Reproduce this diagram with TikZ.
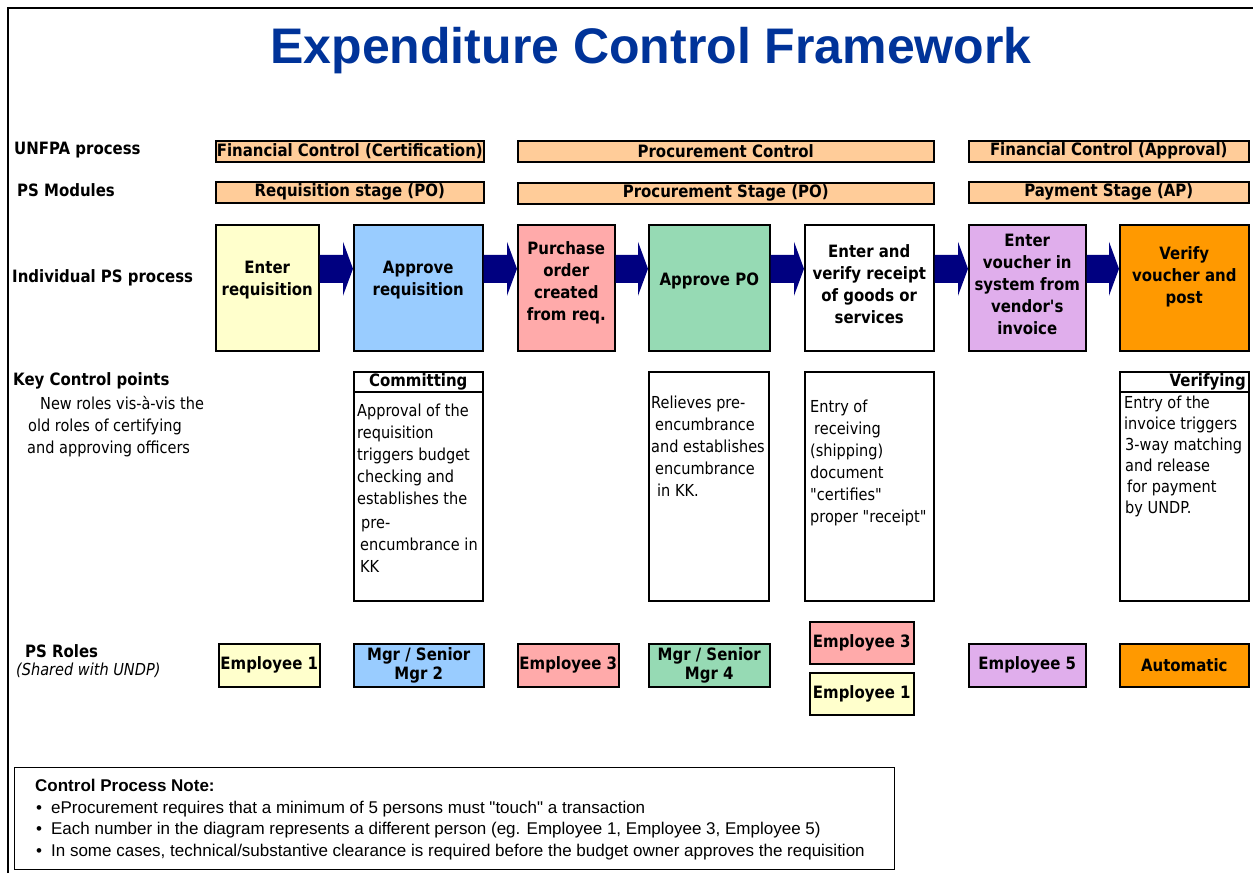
\documentclass[tikz,border=0pt]{standalone}
\usepackage{fontspec}
\setmainfont{Liberation Sans}
\newfontfamily\tahoma[FakeStretch=0.88]{DejaVu Sans}
\usetikzlibrary{calc}

\definecolor{titleblue}{RGB}{0,51,153}
\definecolor{peach}{RGB}{255,204,153}
\definecolor{paleyellow}{RGB}{255,255,204}
\definecolor{skyblue}{RGB}{153,204,255}
\definecolor{rosepink}{RGB}{255,170,170}
\definecolor{seagreen}{RGB}{150,218,180}
\definecolor{lilac}{RGB}{224,174,236}
\definecolor{deeporange}{RGB}{255,153,0}
\definecolor{navyarrow}{RGB}{0,0,128}

\tikzset{
  every node/.style={inner sep=0pt},
  rowlabel/.style={anchor=west, font=\tahoma\bfseries\fontsize{17}{22}\selectfont},
  plainlabel/.style={anchor=north west, align=left, font=\tahoma\fontsize{16.5}{22}\selectfont},
  stagebar/.style={draw, line width=1.5pt, fill=peach, anchor=north west, minimum height=21pt,
    font=\tahoma\bfseries\fontsize{17}{22}\selectfont},
  procbox/.style={draw, line width=1.5pt, anchor=north west, minimum height=126pt},
  proctext/.style={align=center, font=\tahoma\bfseries\fontsize{17}{22}\selectfont},
  ctrlbox/.style={draw, line width=1.5pt, anchor=north west, minimum height=229pt},
  ctrlhead/.style={draw, line width=1.5pt, anchor=north west, minimum height=20pt,
    font=\tahoma\bfseries\fontsize{17}{22}\selectfont},
  ctrltext/.style={anchor=north west, align=left, font=\tahoma\fontsize{16.5}{22}\selectfont},
  rolebox/.style={draw, line width=1.5pt, anchor=north west, minimum height=43pt, align=center,
    font=\tahoma\bfseries\fontsize{17}{19}\selectfont},
}

\begin{document}
\begin{tikzpicture}[x=1pt, y=-1pt]

\useasboundingbox (0,0) rectangle (1253,873);

% frame
\draw[line width=2.5pt] (8,873) -- (8,8) -- (1253,8);

\node[font=\bfseries\fontsize{50}{50}\selectfont, text=titleblue] (title) at (651,51) {Expenditure Control Framework};

% row labels
\node[rowlabel] (lunfpa) at (14,150) {UNFPA process};
\node[rowlabel] (lmod) at (17,190) {PS Modules};
\node[rowlabel] (lproc) at (12,278) {Individual PS process};
\node[rowlabel] (lkey) at (13,381) {Key Control points};
\node[plainlabel] (lkeynote) at (27,396) {\hspace*{13pt}New roles vis-à-vis the\\\hspace*{1pt}old roles of certifying\\and approving officers};
\node[rowlabel] (lroles) at (25,651) {PS Roles};
\node[rowlabel, font=\tahoma\itshape\fontsize{16.5}{22}\selectfont] (lshared) at (16,670) {(Shared with UNDP)};

% stage bars
\node[stagebar, minimum width=268pt] (fcert) at (215,140) {Financial Control (Certification)};
\node[stagebar, minimum width=416pt] (pctrl) at (517,140) {Procurement Control};
\node[stagebar, minimum width=280pt] (fappr) at (968,140) {Financial Control (Approval)};
\node[stagebar, minimum width=268pt] (sreq) at (215,181) {Requisition stage (PO)};
\node[stagebar, minimum width=416pt] (sproc) at (517,182) {Procurement Stage (PO)};
\node[stagebar, minimum width=280pt] (spay) at (968,181) {Payment Stage (AP)};

% process boxes
\node[procbox, fill=paleyellow, minimum width=103pt] (p1) at (215,224) {};
\node[procbox, fill=skyblue, minimum width=129pt] (p2) at (353,224) {};
\node[procbox, fill=rosepink, minimum width=97pt] (p3) at (517,224) {};
\node[procbox, fill=seagreen, minimum width=121pt] (p4) at (648,224) {};
\node[procbox, fill=white, minimum width=129pt] (p5) at (804,224) {};
\node[procbox, fill=lilac, minimum width=117pt] (p6) at (968,224) {};
\node[procbox, fill=deeporange, minimum width=129pt] (p7) at (1119,224) {};

\node[proctext] (p1t) at ([yshift=8pt]p1.center) {Enter\\requisition};
\node[proctext] (p2t) at ([yshift=8pt]p2.center) {Approve\\requisition};
\node[proctext] (p3t) at ([yshift=5pt]p3.center) {Purchase\\order\\created\\from req.};
\node[proctext] (p4t) at ([yshift=7pt]p4.center) {Approve PO};
\node[proctext] (p5t) at ([yshift=4pt]p5.center) {Enter and\\verify receipt\\of goods or\\services};
\node[proctext] (p6t) at ([yshift=3pt]p6.center) {Enter\\voucher in\\system from\\vendor's\\invoice};
\node[proctext] (p7t) at ([yshift=11pt]p7.center) {Verify\\voucher and\\post};

\foreach \a/\b in {p1/p2, p2/p3, p3/p4, p4/p5, p5/p6, p6/p7} {
  \fill[navyarrow] ([yshift=33pt]\a.east) -- ([xshift=-10pt,yshift=33pt]\b.west)
    -- ([xshift=-10pt,yshift=46pt]\b.west) -- ([yshift=19pt]\b.west)
    -- ([xshift=-10pt,yshift=-8pt]\b.west) -- ([xshift=-10pt,yshift=5pt]\b.west)
    -- ([yshift=5pt]\a.east) -- cycle;
}

% key control points
\node[ctrlbox, minimum width=129pt] (kcommit) at (353,371) {};
\node[ctrlhead, minimum width=129pt] (kcommith) at (353,371) {Committing};
\node[ctrltext] (kcommitt) at (357,404) {Approval of the\\requisition\\triggers budget\\checking and\\establishes the\\[2pt]\hspace*{4pt}pre-\\\hspace*{3pt}encumbrance in\\\hspace*{3pt}KK};

\node[ctrlbox, minimum width=120pt] (krelieve) at (648,371) {};
\node[ctrltext] (krelievet) at (651,396) {Relieves pre-\\\hspace*{4pt}encumbrance\\and establishes\\\hspace*{4pt}encumbrance\\\hspace*{6pt}in KK.};

\node[ctrlbox, minimum width=129pt] (kentry) at (804,371) {};
\node[ctrltext] (kentryt) at (810,400) {Entry of\\\hspace*{4pt}receiving\\(shipping)\\document\\"certifies"\\proper "receipt"};

\node[ctrlbox, minimum width=129pt] (kverify) at (1119,371) {};
\node[ctrlhead, minimum width=129pt, text width=123pt, align=right] (kverifyh) at (1119,371) {Verifying};
\node[ctrltext, font=\tahoma\fontsize{16.5}{21}\selectfont] (kverifyt) at (1124,396) {Entry of the\\invoice triggers\\\hspace*{1pt}3-way matching\\\hspace*{1pt}and release\\\hspace*{3pt}for payment\\\hspace*{1pt}by UNDP.};

% roles
\node[rolebox, fill=paleyellow, minimum width=101pt] (r1) at (218,643) {Employee 1};
\node[rolebox, fill=skyblue, minimum width=130pt] (r2) at (353,643) {Mgr / Senior\\Mgr 2};
\node[rolebox, fill=rosepink, minimum width=101pt] (r3) at (517,643) {Employee 3};
\node[rolebox, fill=seagreen, minimum width=121pt] (r4) at (648,643) {Mgr / Senior\\Mgr 4};
\node[rolebox, fill=rosepink, minimum width=104pt, minimum height=42pt] (r5a) at (809,621) {Employee 3};
\node[rolebox, fill=paleyellow, minimum width=104pt, minimum height=42pt] (r5b) at (809,672) {Employee 1};
\node[rolebox, fill=lilac, minimum width=117pt] (r6) at (968,643) {Employee 5};
\node[rolebox, fill=deeporange, minimum width=129pt] (r7) at (1119,643) {Automatic};

% note
\node[draw, line width=1.2pt, anchor=north west, minimum width=880pt, minimum height=102pt] (note) at (14,767) {};
\node[anchor=north west, align=left, font=\fontsize{17}{21.5}\selectfont] (notet) at (35,779)
  {\textbf{Control Process Note:}\\
   \hspace*{1pt}\textbullet\hspace{9pt}eProcurement requires that a minimum of 5 persons must \textquotedbl touch\textquotedbl\ a transaction\\
   \hspace*{1pt}\textbullet\hspace{9pt}Each number in the diagram represents a different person (eg. Employee 1, Employee 3, Employee 5)\\
   \hspace*{1pt}\textbullet\hspace{9pt}In some cases, technical/substantive clearance is required before the budget owner approves the requisition};

\end{tikzpicture}
\end{document}
